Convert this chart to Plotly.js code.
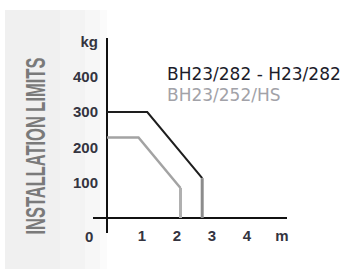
<!DOCTYPE html>
<html>
<head>
<meta charset="utf-8">
<script src="https://cdn.plot.ly/plotly-3.0.1.min.js"></script>
<style>html,body{margin:0;padding:0;background:#fff;}#chart{width:345px;height:269px;}</style>
</head>
<body>
<div id="chart"></div>
<script>
// ---- data ----
const seriesNames = ['BH23/282 - H23/282', 'BH23/252/HS'];
const blackX = [0, 1.15, 2.72, 2.72];
const blackY = [300, 300, 113, 0];
const grayX = [0, 0.9, 2.1, 2.1];
const grayY = [228, 228, 85, 0];
const xTickVals = [1, 2, 3, 4, 5];
const xTickText = ['1', '2', '3', '4', 'm'];
const yTickVals = [100, 200, 300, 400, 500];
const yTickText = ['100', '200', '300', '400', 'kg'];
const originLabel = '0';
const sideTitle = 'INSTALLATION LIMITS';

// ---- layout helpers ----
const W = 345, H = 269, ML = 93, MR = 58, MT = 38, MB = 36;
const PW = W - ML - MR, PH = H - MT - MB;
const px = v => (v - ML) / PW;       // pixel x -> paper x
const py = v => (H - MB - v) / PH;   // pixel y -> paper y

const traces = [
  {x: grayX.slice(0, 3), y: grayY.slice(0, 3), mode: 'lines', line: {color: '#a3a3a3', width: 2.5}, hoverinfo: 'skip'},
  {x: grayX.slice(2), y: grayY.slice(2), mode: 'lines', line: {color: '#b0b0b0', width: 3}, hoverinfo: 'skip'},
  {x: blackX.slice(0, 3), y: blackY.slice(0, 3), mode: 'lines', line: {color: '#1e1e1e', width: 2}, hoverinfo: 'skip'},
  {x: blackX.slice(2), y: blackY.slice(2), mode: 'lines', line: {color: '#8c8c8c', width: 3}, hoverinfo: 'skip'}
];

const tickFont = {family: 'Liberation Sans, Arial, sans-serif', size: 15, color: '#34343f', weight: 'bold'};

const bgRects = [
  [5, 60, '#f0f0f0'], [60, 85, '#f3f3f3'], [85, 100, '#f7f7f7'], [100, 107, '#fbfbfb']
].map(r => ({type: 'rect', xref: 'paper', yref: 'paper', x0: px(r[0]), x1: px(r[1]), y0: py(269), y1: py(10),
  fillcolor: r[2], line: {width: 0}, layer: 'below'}));

const layout = {
  width: W, height: H, autosize: false,
  margin: {l: ML, r: MR, t: MT, b: MB, pad: 0},
  paper_bgcolor: '#ffffff', plot_bgcolor: 'rgba(0,0,0,0)',
  showlegend: false,
  xaxis: {range: [-0.4, 5.143], showgrid: false, zeroline: true, zerolinecolor: '#111', zerolinewidth: 1.5,
    showline: false, tickvals: xTickVals, ticktext: xTickText, ticks: '', tickfont: tickFont,
    ticklabelstandoff: -8, fixedrange: true},
  yaxis: {range: [-42.5, 510], showgrid: false, zeroline: true, zerolinecolor: '#111', zerolinewidth: 1.5,
    showline: false, tickvals: yTickVals, ticktext: yTickText, ticks: '', tickfont: tickFont,
    ticklabelstandoff: -6, fixedrange: true},
  shapes: bgRects,
  annotations: [
    {text: seriesNames[0], xref: 'paper', yref: 'paper', x: px(165), y: py(73.5), xanchor: 'left', yanchor: 'middle',
      showarrow: false, font: {family: 'DejaVu Sans, sans-serif', size: 17, color: '#1c1c2a'}},
    {text: seriesNames[1], xref: 'paper', yref: 'paper', x: px(165), y: py(94.5), xanchor: 'left', yanchor: 'middle',
      showarrow: false, font: {family: 'DejaVu Sans, sans-serif', size: 17, color: '#a2a2a8'}},
    {text: originLabel, xref: 'paper', yref: 'paper', x: px(89), y: py(236), xanchor: 'center', yanchor: 'middle',
      showarrow: false, font: tickFont},
    {text: sideTitle, xref: 'paper', yref: 'paper', x: px(35), y: py(146.5), xanchor: 'center', yanchor: 'middle',
      textangle: -90, showarrow: false,
      font: {family: 'Liberation Sans, Arial, sans-serif', size: 20, color: '#7a7a7a', weight: 'bold'}}
  ]
};

Plotly.newPlot('chart', traces, layout, {staticPlot: true, displayModeBar: false}).then(() => {
  // condense the side title along its own direction (the reference uses a condensed face)
  document.querySelectorAll('.annotation-text').forEach(t => {
    if (t.textContent === sideTitle) {
      const targetLen = 177, capScale = 1.4;
      const bb = t.getBBox();
      const cx = bb.x + bb.width / 2, cy = bb.y + bb.height / 2;
      const sx = targetLen / bb.width;
      t.setAttribute('transform',
        `translate(${cx},${cy}) scale(${sx},${capScale}) translate(${-cx},${-cy})`);
    }
  });
});
</script>
</body>
</html>
